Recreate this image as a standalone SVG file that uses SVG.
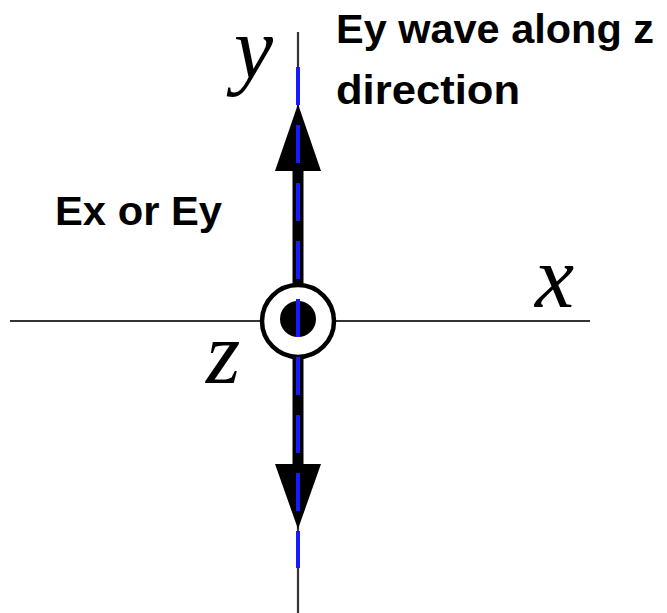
<svg xmlns="http://www.w3.org/2000/svg" width="667" height="613" viewBox="0 0 667 613">
  <style>
    .axis { stroke: #333; stroke-width: 2.2; fill: none; }
    .shaft { stroke: #000; stroke-width: 11; fill: none; }
    .head { fill: #000; }
    .wave { stroke: #1a1aff; stroke-width: 4; stroke-dasharray: 38 20; fill: none; }
    .math { font-family: "Liberation Serif", "Times New Roman", serif; font-style: italic; font-size: 88px; fill: #000; }
    .lbl { font-family: "Liberation Sans", Arial, sans-serif; font-weight: bold; font-size: 40px; fill: #000; }
  </style>
  <rect width="667" height="613" fill="#fff"/>
  <g id="connectors">
    <line class="axis" x1="10" y1="321" x2="590" y2="321"/>
    <line class="axis" x1="298" y1="32" x2="298" y2="613"/>
    <line class="shaft" x1="298" y1="165" x2="298" y2="285"/>
    <polygon class="head" points="298,104 275,171 321,171"/>
    <line class="shaft" x1="298" y1="357" x2="298" y2="470"/>
    <polygon class="head" points="298,529 275,464 321,464"/>
  </g>
  <g id="origin">
    <circle cx="298" cy="321" r="36" fill="#fff" stroke="#000" stroke-width="4.5"/>
    <circle cx="298" cy="319" r="18" fill="#000"/>
  </g>
  <g id="wave">
    <line class="wave" x1="298" y1="67" x2="298" y2="568"/>
  </g>
  <g id="labels">
    <text class="math" x="234" y="78">y</text>
    <text class="math" x="535" y="307">x</text>
    <text class="math" x="206" y="383">z</text>
    <text class="lbl" x="336" y="43" textLength="318" lengthAdjust="spacingAndGlyphs">Ey wave along z</text>
    <text class="lbl" x="336" y="104" textLength="184" lengthAdjust="spacingAndGlyphs">direction</text>
    <text class="lbl" x="55" y="225" textLength="167" lengthAdjust="spacingAndGlyphs">Ex or Ey</text>
  </g>
</svg>
